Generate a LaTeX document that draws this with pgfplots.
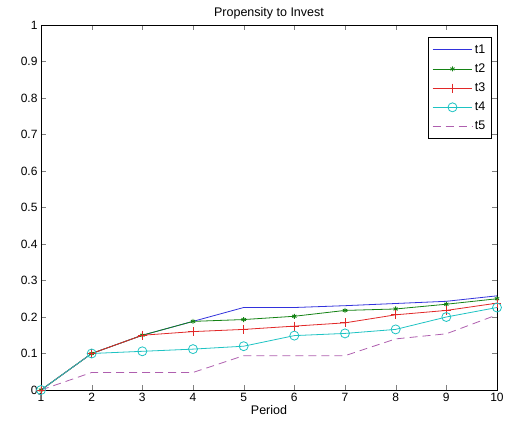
\documentclass[border=0pt]{standalone}
\usepackage{pgfplots}
\pgfplotsset{compat=1.18}
\usepackage{fontspec}
\setmainfont{Liberation Sans}
\definecolor{cB}{RGB}{50,50,220}
\definecolor{cG}{RGB}{20,130,20}
\definecolor{cR}{RGB}{225,40,40}
\definecolor{cC}{RGB}{30,195,195}
\definecolor{cM}{RGB}{175,95,175}
\begin{document}
\begin{tikzpicture}
\begin{axis}[
    scale only axis,
    width=456pt, height=365pt,
    xmin=1, xmax=10, ymin=0, ymax=1,
    xtick={1,...,10},
    ytick={0,0.1,...,1},
    tick align=inside,
    tick pos=both,
    major tick length=5pt,
    /pgf/number format/assume math mode=true,
    ticklabel style={font=\fontsize{12}{14}\selectfont},
    yticklabel style={/pgf/number format/fixed},
    title={Propensity to Invest},
    title style={font=\fontsize{12.5}{14}\selectfont, yshift=-4pt},
    xlabel={Period},
    xlabel style={font=\fontsize{12.5}{14}\selectfont, yshift=3pt},
    axis line style={black, line width=0.6pt},
    legend style={at={(0.988,0.966)}, anchor=north east, font=\fontsize{12.5}{14}\selectfont,
        line width=0.6pt, row sep=5pt, inner xsep=4pt, inner ysep=5pt},
    legend cell align=left,
    legend image code/.code={\draw[#1, mark repeat=2, mark phase=2] plot coordinates {(0cm,0cm) (0.7cm,0cm) (1.4cm,0cm)};},
]
\addplot[draw=cB, color=cB, line width=0.8pt] coordinates {
 (1,0) (2,0.1) (3,0.15) (4,0.188) (5,0.226) (6,0.226) (7,0.231) (8,0.237) (9,0.243) (10,0.258)};
\addlegendentry{t1}
\addplot[draw=cG, color=cG, line width=0.8pt, mark=asterisk, mark size=2.5pt, mark options={solid, draw=cG, line width=0.9pt}] coordinates {
 (1,0) (2,0.1) (3,0.15) (4,0.188) (5,0.193) (6,0.202) (7,0.218) (8,0.222) (9,0.235) (10,0.25)};
\addlegendentry{t2}
\addplot[draw=cR, color=cR, line width=0.8pt, mark=+, mark size=4.5pt, mark options={solid, draw=cR}] coordinates {
 (1,0) (2,0.1) (3,0.15) (4,0.16) (5,0.166) (6,0.175) (7,0.184) (8,0.206) (9,0.218) (10,0.238)};
\addlegendentry{t3}
\addplot[draw=cC, color=cC, line width=0.8pt, mark=o, mark size=4.5pt, mark options={solid, draw=cC}] coordinates {
 (1,0) (2,0.1) (3,0.106) (4,0.112) (5,0.12) (6,0.149) (7,0.155) (8,0.166) (9,0.2) (10,0.226)};
\addlegendentry{t4}
\addplot[draw=cM, color=cM, line width=0.8pt, dash pattern=on 8pt off 5pt] coordinates {
 (1,0) (2,0.048) (3,0.048) (4,0.048) (5,0.094) (6,0.094) (7,0.094) (8,0.14) (9,0.154) (10,0.206)};
\addlegendentry{t5}
\coordinate (sw) at (rel axis cs:0,0);
\coordinate (ne) at (rel axis cs:1,1);
\end{axis}
\path ([xshift=-41pt,yshift=-37pt]sw) rectangle ([xshift=10pt,yshift=25pt]ne);
\end{tikzpicture}
\end{document}
